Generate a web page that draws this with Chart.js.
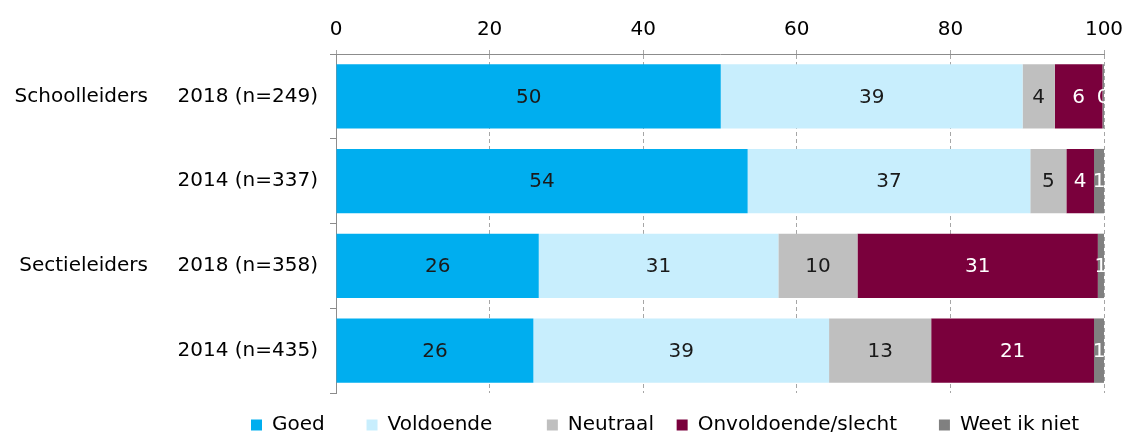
<!DOCTYPE html>
<html lang="nl">
<head>
<meta charset="UTF-8">
<title>Oordeel schoolleiders en sectieleiders</title>
<script src="https://cdn.jsdelivr.net/npm/chart.js"></script>
<style>
  html, body { margin: 0; padding: 0; background: #fff; }
  #wrap { width: 1125px; height: 433px; }
</style>
</head>
<body>
<div id="wrap"><canvas id="chart"></canvas></div>
<script>
  const rowLabels = ['2018 (n=249)', '2014 (n=337)', '2018 (n=358)', '2014 (n=435)'];
  const groupLabels = ['Schoolleiders', '', 'Sectieleiders', ''];

  const goed = [50.1, 53.6, 26.4, 25.7];
  const voldoende = [39.3, 36.8, 31.2, 38.5];
  const neutraal = [4.2, 4.7, 10.3, 13.3];
  const onvoldoende = [6.2, 3.6, 31.3, 21.2];
  const weetNiet = [0.2, 1.3, 0.8, 1.3];

  // spaces after each legend entry (the original has uneven gaps)
  const legendGap = [5, 7, 2, 5, 0];

  const FONT = '"DejaVu Sans", sans-serif';
  Chart.defaults.font.family = FONT;
  Chart.defaults.font.size = 20;
  Chart.defaults.color = '#000';

  // value labels in the middle of each segment
  const segmentLabels = {
    id: 'segmentLabels',
    afterDatasetsDraw(chart) {
      const { ctx, chartArea } = chart;
      ctx.save();
      ctx.beginPath();
      ctx.rect(chartArea.left, chartArea.top, chartArea.width, chartArea.height);
      ctx.clip();
      ctx.font = '20px ' + FONT;
      ctx.textAlign = 'center';
      ctx.textBaseline = 'middle';
      chart.data.datasets.forEach((ds, i) => {
        chart.getDatasetMeta(i).data.forEach((bar, j) => {
          ctx.fillStyle = ds.labelColor;
          ctx.fillText(Math.round(ds.data[j]), (bar.x + bar.base) / 2, bar.y + 1);
        });
      });
      ctx.restore();
    }
  };

  // put the legend row where the original has it
  const legendShift = {
    id: 'legendShift',
    afterLayout(chart) {
      const lg = chart.legend;
      lg.left = 241;
      lg.right = 1125;
      lg.top += 12;
      lg.bottom += 12;
    }
  };

  const mk = (label, data, color, labelColor) => ({
    label, data, backgroundColor: color, labelColor,
    borderWidth: 0, barPercentage: 0.76, categoryPercentage: 1
  });

  new Chart(document.getElementById('chart'), {
    type: 'bar',
    data: {
      labels: rowLabels,
      datasets: [
        mk('Goed', goed, '#00aeef', '#1a1a1a'),
        mk('Voldoende', voldoende, '#c8eefd', '#1a1a1a'),
        mk('Neutraal', neutraal, '#bfbfbf', '#1a1a1a'),
        mk('Onvoldoende/slecht', onvoldoende, '#7a003c', '#ffffff'),
        mk('Weet ik niet', weetNiet, '#808080', '#ffffff')
      ]
    },
    options: {
      indexAxis: 'y',
      responsive: true,
      maintainAspectRatio: false,
      animation: false,
      layout: { padding: { left: 5, right: 21, top: 17, bottom: 0 } },
      scales: {
        x: {
          position: 'top',
          stacked: true,
          min: 0,
          max: 100,
          ticks: { stepSize: 20, padding: 8, maxRotation: 0 },
          grid: { color: '#a6a6a6', tickLength: 4 },
          border: { color: '#8c8c8c', dash: [4, 3] },
          afterFit(s) { s.height = 37; s.paddingRight = 17; }
        },
        y: {
          stacked: true,
          weight: 0,
          afterFit(s) { s.width = 181; },
          ticks: { padding: 12 },
          grid: { drawOnChartArea: false, offset: true, tickLength: 6, color: '#8c8c8c' },
          border: { color: '#8c8c8c' }
        },
        yGroup: {
          type: 'category',
          position: 'left',
          labels: groupLabels,
          offset: true,
          weight: 1,
          afterFit(s) { s.width = 150; },
          ticks: { padding: 7 },
          grid: { display: false, drawTicks: false },
          border: { display: false }
        }
      },
      plugins: {
        tooltip: { enabled: false },
        legend: {
          position: 'bottom',
          align: 'start',
          labels: {
            boxWidth: 11,
            boxHeight: 11,
            padding: 10,
            font: { size: 20 },
            generateLabels(chart) {
              const items = Chart.defaults.plugins.legend.labels.generateLabels(chart);
              items.forEach((it, i) => { it.text += ' '.repeat(legendGap[i]); });
              return items;
            }
          }
        }
      }
    },
    plugins: [segmentLabels, legendShift]
  });
</script>
</body>
</html>
